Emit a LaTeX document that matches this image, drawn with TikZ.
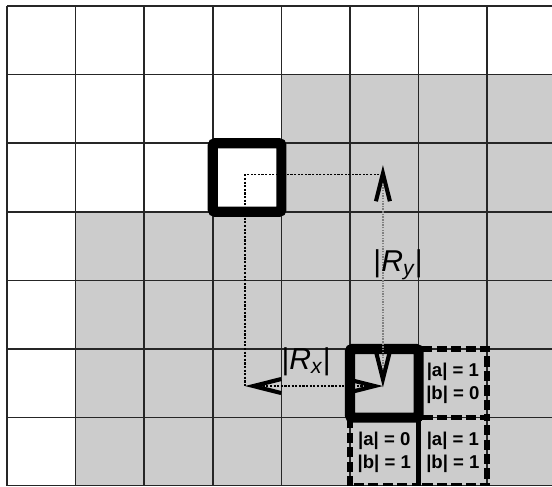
\documentclass[tikz,border=0pt]{standalone}
\usepackage{fontspec}
\setmainfont{Liberation Sans}
\usetikzlibrary{arrows.meta}
\begin{document}
\begin{tikzpicture}[
        gridline/.style = {line width=0.6pt, black!85},
        cellbox/.style = {line width=4.2pt, rounded corners=1pt},
        nbrbox/.style = {line width=2.3pt, dash pattern=on 4.2pt off 1.8pt},
        guide/.style = {line width=0.45pt, dash pattern=on 0.9pt off 0.6pt},
        arrow/.style = {line width=0.5pt, <->,
            >={Straight Barb[length=11.5pt, width=5.8pt, line width=1.7pt, color=black]}},
        nbrlabel/.style = {align=center, inner sep=0pt,
            font=\bfseries\fontsize{7.7}{9.5}\selectfont},
        rlabel/.style = {inner sep=0pt, font=\fontsize{12.5}{14}\selectfont}]
                \useasboundingbox (-0.102,0) rectangle (7.945,7.0875);
                \clip (-0.102,0.01) rectangle (7.945,7.0875);

                % shaded region
                \fill[gray!40] (4,4) rectangle (9,6);
                \fill[gray!40] (1,-1) rectangle (9,4);
                \draw[gridline] (0,-1) grid (9,7);

                % points of the two distances
                \coordinate (start) at (3.47,4.54);
                \coordinate (yhook) at (5.48,4.54);
                \coordinate (ytop)  at (5.48,4.68);
                \coordinate (corner) at (3.47,1.46);
                \coordinate (meet)  at (5.48,1.44);

                \draw[guide] (yhook) -- (start) -- (corner);

                % neighbour cells
                \draw[nbrbox] (6,1) rectangle (7,2);
                \draw[nbrbox] (5,0) rectangle (6,1);
                \draw[nbrbox] (6,0) rectangle (7,1);

                % source and current cell
                \draw[cellbox] (3,4) rectangle (4,5);
                \draw[cellbox] (5,1) rectangle (6,2);

                \draw[arrow, dash pattern=on 0.9pt off 0.6pt] (corner) -- (meet |- corner);
                \draw[arrow, gray, line width=0.6pt, dash pattern=on 0.6pt off 0.5pt]
                    (meet) -- (ytop);

                \node[rlabel] (rx) at (4.36,1.82)
                    {|{\itshape R}\textsubscript{\itshape x}|};
                \node[rlabel] (ry) at (5.70,3.23)
                    {|{\itshape R}\textsubscript{\itshape y}|};

                \node[nbrlabel] (n10) at (6.5,1.5) {|a| = 1\\|b| = 0};
                \node[nbrlabel] (n01) at (5.5,0.5) {|a| = 0\\|b| = 1};
                \node[nbrlabel] (n11) at (6.5,0.5) {|a| = 1\\|b| = 1};
            \end{tikzpicture}
\end{document}
